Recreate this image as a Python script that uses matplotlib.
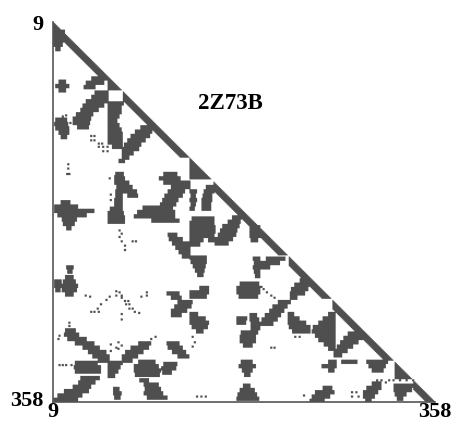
#!/usr/bin/env python3
"""Residue contact map of 2Z73B (lower triangle, residues 9-358)."""
import numpy as np
import matplotlib
matplotlib.use('Agg')
import matplotlib.pyplot as plt
from matplotlib.colors import LinearSegmentedColormap
from matplotlib.transforms import ScaledTranslation

FIRST = 9
LAST = 358
ROW = 4

# --- contacts near the diagonal: (start, end, width) ---
band_start = [9, 73, 156, 225, 265, 339]
band_end = [59, 133, 223, 263, 320, 358]
band_width = [8, 8, 8, 8, 8, 8]

# domains filled right up to the diagonal
tri_start = [59, 134, 322]
tri_end = [71, 153, 337]

# --- clusters: (first row, [(col from, col to) per row]) ---
clusters_upper = [
    (16, [(9, 18), (9, 19), (9, 18), (10, 16), (12, 14)]),
    (62, [(15, 19), (12, 22), (15, 19)]),
    (59, [(45, 57), (40, 54), (38, 46)]),
    (72, [(48, 58), (45, 58), (40, 58), (37, 54), (35, 49), (31, 44), (28, 42), (28, 41), (32, 40)]),
    (82, [(60, 72), (60, 70), (60, 70), (60, 68), (60, 66), (60, 68), (60, 70), (60, 71), (60, 71), (60, 71), (64, 71)]),
    (104, [(90, 100), (85, 98), (81, 96), (78, 92), (75, 88), (73, 86), (73, 81), (73, 77)]),
    (97, [(12, 20), (11, 21), (12, 22), (15, 22), (17, 20)]),
    (135, [(70, 73)]),
    (147, [(67, 72), (66, 73), (66, 72), (68, 72), (67, 72), (67, 71), (66, 71), (66, 71), (62, 71), (60, 72), (60, 73), (60, 73)]),
    (155, [(73, 77), (73, 80), (75, 84), (78, 85)]),
    (173, [(17, 23), (11, 30), (11, 45), (14, 38), (18, 29), (19, 27), (22, 24)]),
    (178, [(92, 105), (87, 119), (84, 119), (100, 123)]),
    (147, [(111, 121), (107, 124), (111, 123)]),
    (155, [(124, 133), (118, 133), (115, 128), (112, 126), (110, 122), (108, 120), (106, 117), (105, 115)]),
    (159, [(150, 155), (148, 155), (147, 153), (146, 153), (146, 152), (146, 152)]),
    (163, [(135, 139), (136, 138), (135, 139), (136, 138), (135, 137)]),
]

clusters_middle = [
    (188, [(137, 155), (135, 155), (135, 154), (135, 153), (135, 149), (135, 145), (135, 142)]),
    (196, [(150, 156), (151, 156), (151, 155), (152, 155)]),
    (203, [(115, 121), (116, 126), (119, 132), (122, 133), (125, 133), (128, 133)]),
    (224, [(135, 148), (136, 148), (138, 147), (140, 146), (142, 145)]),
    (242, [(21, 26), (19, 28), (18, 30), (18, 29), (21, 26)]),
    (233, [(22, 26), (23, 25)]),
    (246, [(11, 15), (11, 15), (12, 14)]),
    (187, [(174, 181), (170, 179), (165, 178), (163, 176), (161, 175), (158, 172), (158, 168)]),
    (196, [(190, 197), (190, 198), (190, 198), (191, 195)]),
    (225, [(205, 220), (200, 215), (197, 206)]),
    (225, [(193, 197), (194, 198), (193, 197), (194, 197), (195, 197)]),
    (248, [(181, 196), (178, 197), (178, 197), (180, 195)]),
    (245, [(236, 243), (231, 245), (228, 241), (227, 238), (227, 231)]),
    (265, [(216, 225), (211, 222), (208, 219), (204, 216), (201, 213), (198, 209)]),
    (257, [(114, 123), (118, 125)]),
    (265, [(124, 135), (121, 134), (118, 130), (118, 125)]),
    (276, [(135, 140), (135, 147), (135, 150), (137, 149), (141, 145)]),
    (252, [(144, 150), (135, 150), (135, 148)]),
    (280, [(178, 185), (178, 184)]),
    (277, [(190, 194), (190, 196), (191, 196), (191, 197), (182, 195), (181, 193), (181, 193), (184, 190)]),
]

clusters_lower = [
    (291, [(21, 28), (20, 31), (23, 38), (30, 45), (37, 50), (42, 56), (46, 59), (51, 59)]),
    (303, [(88, 97), (81, 95), (76, 90), (73, 85), (73, 80)]),
    (321, [(30, 48), (29, 51), (30, 51)]),
    (335, [(35, 50)]),
    (339, [(33, 46), (28, 42), (20, 40), (14, 34), (10, 30)]),
    (321, [(60, 71), (60, 69), (60, 67), (60, 64)]),
    (320, [(88, 101), (84, 104), (84, 106), (85, 105)]),
    (322, [(111, 121), (109, 120), (110, 116)]),
    (337, [(89, 95), (93, 104), (94, 106), (93, 108), (96, 112)]),
    (345, [(65, 68), (65, 70), (66, 69)]),
    (303, [(114, 123), (115, 126), (119, 129), (124, 132)]),
    (320, [(182, 190), (180, 193), (183, 190), (185, 188)]),
    (342, [(184, 188), (181, 192), (179, 194), (178, 196)]),
    (344, [(257, 263), (250, 265), (247, 261), (245, 256)]),
    (276, [(225, 228), (225, 233), (225, 239), (226, 243), (229, 243)]),
    (276, [(262, 266), (257, 266), (253, 266), (248, 266), (247, 266), (250, 266), (253, 266), (258, 266), (262, 266)]),
    (294, [(280, 289), (276, 291), (273, 287), (270, 282), (267, 277), (267, 272)]),
    (320, [(262, 267), (256, 267), (262, 265)]),
    (320, [(274, 286)]),
    (320, [(297, 314), (299, 312), (302, 310)]),
    (340, [(302, 308), (297, 308), (294, 305), (294, 302), (296, 299)]),
    (342, [(322, 340), (322, 336), (323, 331), (325, 328)]),
]

# --- isolated contacts ---
single_col = [43, 46, 43, 46, 50, 53, 50, 54, 58, 54, 58, 22, 22, 21, 23, 24, 27, 30, 17, 20,
              69, 71, 69, 71, 74, 81, 84, 74, 66, 69, 66, 71, 71, 74, 77, 75, 78, 78, 81, 83,
              87, 71, 71, 52, 57, 49, 43, 46, 50, 60, 38, 42, 89, 94, 94, 23, 23, 14, 13, 68,
              66, 71, 61, 61, 68, 102, 98, 95, 14, 17, 20, 25, 136, 138, 136, 140, 144, 148,
              60, 65, 61, 61, 208, 211, 282, 286, 282, 288, 238, 230, 234, 201, 204, 208, 211,
              199, 305, 309, 313, 316, 320, 326, 332, 338]
single_row = [113, 113, 117, 117, 120, 120, 123, 123, 123, 127, 127, 139, 143, 148, 148, 101, 102, 102, 95, 94,
              200, 203, 206, 210, 214, 210, 210, 218, 256, 257, 260, 260, 262, 265, 265, 268, 268, 272, 272, 275,
              276, 277, 282, 268, 264, 272, 275, 275, 275, 261, 260, 261, 261, 260, 257, 285, 288, 297, 300, 303,
              308, 306, 305, 311, 309, 298, 300, 305, 324, 324, 324, 324, 298, 303, 307, 353, 353, 353,
              152, 150, 167, 172, 308, 308, 349, 349, 353, 353, 352, 298, 298, 254, 257, 260, 262,
              252, 338, 338, 340, 338, 338, 338, 338, 338]

N = LAST - FIRST + 1
contact = np.zeros((N, N))


def fill(r0, r1, c0, c1):
    # residue numbers, inclusive on both ends
    contact[max(r0 - FIRST, 0):min(r1 - FIRST + 1, N), max(c0 - FIRST, 0):min(c1 - FIRST + 1, N)] = 1


for s, e, w in zip(band_start, band_end, band_width):
    for r in range(s, e + 1):
        fill(r, r, max(r - w, s), r)

for s, e in zip(tri_start, tri_end):
    for r in range(s, e + 1):
        fill(r, r, s, r)

for first, runs in clusters_upper + clusters_middle + clusters_lower:
    for k, (c0, c1) in enumerate(runs):
        # the rows were read inside the dark core, the fringe adds a residue each side
        fill(first + k * ROW, first + k * ROW + ROW - 1, c0 - 1, c1 + 1)

for c, r in zip(single_col, single_row):
    fill(r, r + 1, c, c + 1)

# --- plot ---
fig = plt.figure(figsize=(4.56, 4.21), dpi=100)
ax = fig.add_axes([53 / 456, 19 / 421, 382 / 456, 380 / 421])
cmap = LinearSegmentedColormap.from_list('contact', ['#ffffff', '#4f4f4f'])
ax.imshow(contact, cmap=cmap, vmin=0, vmax=1, aspect='auto', interpolation='bilinear',
          extent=(FIRST, LAST, LAST, FIRST))

for side in ['top', 'right']:
    ax.spines[side].set_visible(False)
for side in ['left', 'bottom']:
    ax.spines[side].set_color('#555555')
    ax.spines[side].set_linewidth(1.2)

font = dict(family='Liberation Serif', fontweight='bold', fontsize=16, color='black')
ax.set_xticks([FIRST, LAST])
ax.set_xticklabels([str(FIRST), str(LAST)], **font)
ax.set_yticks([FIRST, LAST])
ax.set_yticklabels([str(FIRST), str(LAST)], **font)
ax.tick_params(length=0)
ax.tick_params(axis='x', pad=0)
ax.tick_params(axis='y', pad=7)
# the lower 358 sits a little above its tick
lab = ax.get_yticklabels()[1]
lab.set_transform(lab.get_transform() + ScaledTranslation(0, 3.5 / 100, fig.dpi_scale_trans))
ax.text(171, 83.5, '2Z73B', ha='center', va='center', family='Liberation Serif',
        fontweight='bold', fontsize=16.5, color='black')

plt.savefig('out.png', dpi=100)
